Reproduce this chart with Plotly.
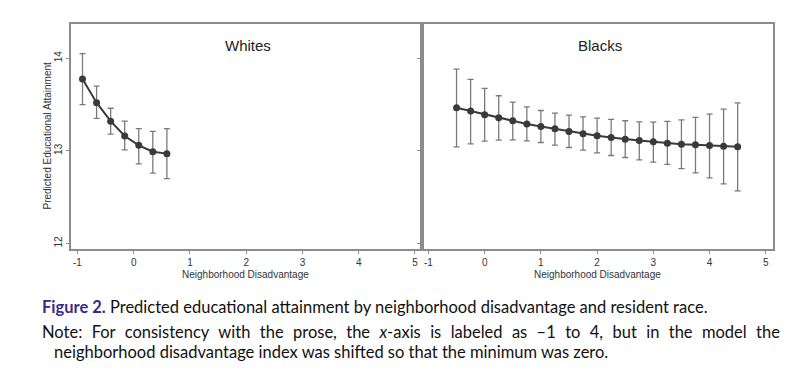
import plotly.graph_objects as go
from plotly.subplots import make_subplots

# page body has an 8px default margin; the figure is sized/offset to fit the 806x382 window
OFF = 8
W, H = 806 - OFF, 382 - OFF

# ---- data ----
white_x = [-0.91, -0.66, -0.41, -0.16, 0.09, 0.34, 0.59]
white_y = [13.775, 13.52, 13.32, 13.16, 13.06, 12.99, 12.97]
white_hi = [14.05, 13.70, 13.46, 13.32, 13.24, 13.21, 13.24]
white_lo = [13.50, 13.35, 13.18, 13.01, 12.86, 12.76, 12.70]

black_x = [-0.5, -0.25, 0.0, 0.25, 0.5, 0.75, 1.0, 1.25, 1.5, 1.75, 2.0,
           2.25, 2.5, 2.75, 3.0, 3.25, 3.5, 3.75, 4.0, 4.25, 4.5]
black_y = [13.465, 13.43, 13.39, 13.357, 13.324, 13.29, 13.264, 13.238, 13.21,
           13.184, 13.162, 13.145, 13.126, 13.112, 13.097, 13.083, 13.072,
           13.065, 13.058, 13.051, 13.043]
black_hi = [13.883, 13.772, 13.674, 13.595, 13.527, 13.476, 13.436, 13.408,
            13.386, 13.368, 13.354, 13.339, 13.325, 13.314, 13.31, 13.318,
            13.335, 13.361, 13.397, 13.451, 13.519]
black_lo = [13.044, 13.076, 13.105, 13.116, 13.119, 13.108, 13.09, 13.062,
            13.036, 13.008, 12.979, 12.95, 12.928, 12.903, 12.878, 12.853,
            12.809, 12.762, 12.708, 12.644, 12.568]

x_ticks = [-1, 0, 1, 2, 3, 4, 5]
x_ticktext = ["-1", "0", "1", "2", "3", "4", "5"]
y_ticks = [12, 13, 14]
panel_titles = ["Whites", "Blacks"]


def px(x):
    return (x - OFF) / W


def py(y):
    return 1 - (y - OFF) / H


fig = make_subplots(rows=1, cols=2, shared_yaxes=False)

LINE_C = "#3a3a3a"
ERR_C = "#7a7a7a"
AX_C = "#8c8c8c"

for i, (xs, ys, hi, lo) in enumerate([(white_x, white_y, white_hi, white_lo),
                                      (black_x, black_y, black_hi, black_lo)]):
    fig.add_trace(go.Scatter(
        x=xs, y=ys, mode="lines+markers",
        line=dict(color=LINE_C, width=2),
        marker=dict(color=LINE_C, size=7),
        error_y=dict(type="data", symmetric=False,
                     array=[h - c for h, c in zip(hi, ys)],
                     arrayminus=[c - l for c, l in zip(ys, lo)],
                     color=ERR_C, thickness=1.3, width=3),
        showlegend=False,
    ), row=1, col=i + 1)

x_domains = [[px(70.7), px(421.7)], [px(421.7), px(772.5)]]
y_domain = [py(249), py(24)]

TICK_FONT = dict(family="Arial, Liberation Sans", size=10, color="#333")
common_x = dict(range=[-1.12, 5.12], tickvals=x_ticks, ticktext=x_ticktext,
                ticks="outside", ticklen=3, tickcolor=AX_C, tickwidth=1,
                showline=True, linecolor=AX_C, linewidth=1.5, mirror=True,
                showgrid=False, zeroline=False, automargin=False,
                tickfont=TICK_FONT)
common_y = dict(range=[11.94, 14.37], tickvals=y_ticks,
                ticks="outside", ticklen=3, tickcolor=AX_C, tickwidth=1,
                showline=True, linecolor=AX_C, linewidth=1.5, mirror=True,
                showgrid=False, zeroline=False, domain=y_domain, automargin=False,
                tickfont=TICK_FONT)

fig.update_layout(
    xaxis=dict(domain=x_domains[0], **common_x),
    xaxis2=dict(domain=x_domains[1], **common_x),
    yaxis=dict(tickangle=-90, showticklabels=True, **common_y),
    yaxis2=dict(showticklabels=False, **common_y),
    width=W, height=H,
    margin=dict(l=0, r=0, t=0, b=0, autoexpand=False),
    paper_bgcolor="white", plot_bgcolor="white",
)

ann = []
title_x = [248, 600]
for t, cx in zip(panel_titles, title_x):
    ann.append(dict(text=t, x=px(cx), y=py(46), xref="paper", yref="paper",
                    showarrow=False, xanchor="center", yanchor="middle",
                    font=dict(family="Arial, Liberation Sans", size=15, color="#222")))
for cx in [245, 597]:
    ann.append(dict(text="Neighborhood Disadvantage", x=px(cx), y=py(274),
                    xref="paper", yref="paper", showarrow=False,
                    xanchor="center", yanchor="middle",
                    font=dict(family="Arial, Liberation Sans", size=10, color="#333")))
ann.append(dict(text="Predicted Educational Attainment", x=px(46.5), y=py(136),
                xref="paper", yref="paper", showarrow=False, textangle=-90,
                xanchor="center", yanchor="middle",
                font=dict(family="Arial, Liberation Sans", size=10, color="#333")))

CAP_FONT = "Lato, Open Sans, sans-serif"
CAP_SIZE = 16.5
note_words = ["Note:", "For", "consistency", "with", "the", "prose,", "the",
              "<i>x</i>-axis", "is", "labeled", "as", "\u20131", "to", "4,", "but",
              "in", "the", "model", "the"]
ann.append(dict(text="<b><span style='color:#3d2a88'>Figure 2.</span></b> Predicted educational attainment by neighborhood disadvantage and resident race.",
                x=px(40), y=py(307), xref="paper", yref="paper", showarrow=False,
                xanchor="left", yanchor="middle",
                font=dict(family=CAP_FONT, size=CAP_SIZE, color="#111")))
ann.append(dict(text=" \u2005\u200a".join(note_words),
                x=px(40), y=py(332), xref="paper", yref="paper", showarrow=False,
                xanchor="left", yanchor="middle",
                font=dict(family=CAP_FONT, size=CAP_SIZE, color="#111")))
ann.append(dict(text="neighborhood disadvantage index was shifted so that the minimum was zero.",
                x=px(52), y=py(352), xref="paper", yref="paper", showarrow=False,
                xanchor="left", yanchor="middle",
                font=dict(family=CAP_FONT, size=CAP_SIZE, color="#111")))

fig.update_layout(annotations=ann)
fig.write_html("out.html")
